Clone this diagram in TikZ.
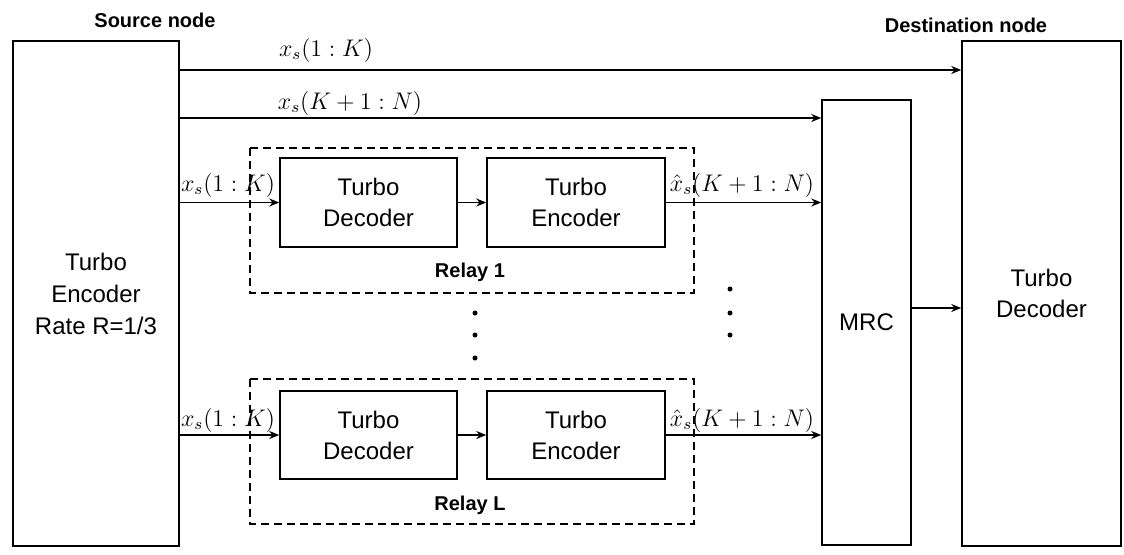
\documentclass[tikz,border=0pt]{standalone}
\usepackage{fontspec}
\setmainfont{Liberation Sans}
\usetikzlibrary{arrows.meta}
\begin{document}
\begin{tikzpicture}[x=0.5pt,y=-0.5pt,
  box/.style={draw, line width=0.75pt, inner sep=0pt, align=center,
    font=\fontsize{12}{15.5}\selectfont},
  relaybox/.style={draw, line width=0.75pt, dash pattern=on 4pt off 2.5pt},
  arr/.style={line width=0.75pt, -{Stealth[length=5pt,width=4pt]}},
  lab/.style={font=\fontsize{12}{14}\selectfont, inner sep=0pt},
  ttl/.style={font=\fontsize{10}{12}\selectfont\bfseries, inner sep=0pt},
  dot/.style={circle, fill=black, inner sep=0pt, minimum size=2.5pt}]
\useasboundingbox (0,0) rectangle (1124,554);

% main blocks
\node[box, minimum width=83pt, minimum height=252.5pt, font=\fontsize{12}{16}\selectfont] (src) at (96,293.5) {Turbo\\Encoder\\Rate R=1/3};
\node[box, minimum width=79.5pt, minimum height=252.5pt] (dst) at (1041.5,293.5) {Turbo\\Decoder};
\node[box, minimum width=44.5pt, minimum height=222.5pt] (mrc) at (866.5,322.5) {MRC};

% relay 1
\node[box, minimum width=88.5pt, minimum height=44.5pt] (dec1) at (368.5,202.5) {Turbo\\Decoder};
\node[box, minimum width=89pt, minimum height=44.5pt] (enc1) at (576,202.5) {Turbo\\Encoder};
\draw[relaybox] (250,148) rectangle (694,293);
\node[ttl] (r1) at (470,272) {Relay 1};

% relay L
\node[box, minimum width=88.5pt, minimum height=44pt] (decL) at (368.5,435) {Turbo\\Decoder};
\node[box, minimum width=89pt, minimum height=44pt] (encL) at (576,435) {Turbo\\Encoder};
\draw[relaybox] (250,379) rectangle (694,524);
\node[ttl] (rL) at (470,505) {Relay L};

% titles
\node[ttl] (srct) at (155,20) {Source node};
\node[ttl] (dstt) at (966,25) {Destination node};

% direct links
\coordinate (a1) at (0,70);
\coordinate (a2) at (0,118);
\coordinate (a3) at (0,308);
\draw[arr] (src.east |- a1) -- (dst.west |- a1);
\draw[arr] (src.east |- a2) -- (mrc.west |- a2);
\node[lab] (l1) at (326,50) {$x_s(1:K)$};
\node[lab] (l2) at (350,103) {$x_s(K+1:N)$};

% relay links
\draw[arr] (src.east |- dec1.west) -- (dec1.west);
\draw[arr] (dec1.east) -- (enc1.west);
\draw[arr] (enc1.east) -- (mrc.west |- enc1.east);
\draw[arr] (src.east |- decL.west) -- (decL.west);
\draw[arr] (decL.east) -- (encL.west);
\draw[arr] (encL.east) -- (mrc.west |- encL.east);
\draw[arr] (mrc.east |- a3) -- (dst.west |- a3);

\node[lab] (li1) at (228,185) {$x_s(1:K)$};
\node[lab] (lo1) at (742,185) {$\hat{x}_s(K+1:N)$};
\node[lab] (liL) at (228,420) {$x_s(1:K)$};
\node[lab] (loL) at (742,420) {$\hat{x}_s(K+1:N)$};

% dots
\node[dot] (d1) at (475,313) {};
\node[dot] (d2) at (475,335) {};
\node[dot] (d3) at (475,358) {};
\node[dot] (e1) at (730,289) {};
\node[dot] (e2) at (730,313) {};
\node[dot] (e3) at (730,335) {};
\end{tikzpicture}
\end{document}
